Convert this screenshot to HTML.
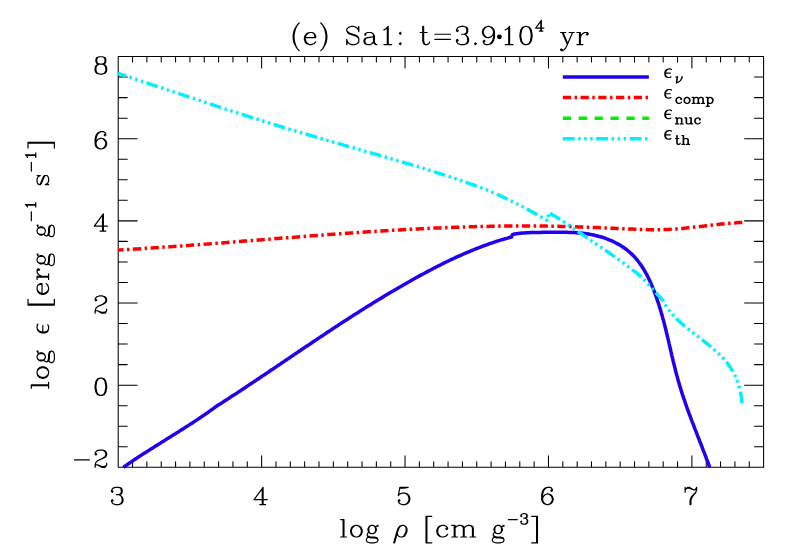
<!DOCTYPE html>
<html><head><meta charset="utf-8"><title>plot</title><style>html,body{margin:0;padding:0;background:#fff;font-family:"Liberation Sans",sans-serif}svg{display:block}</style></head><body><svg width="786" height="550" viewBox="0 0 786 550"><rect width="786" height="550" fill="#fff"/><path d="M118.2 56.55H763.6V467.3H118.2ZM132.54 467.3v-5.5M132.54 56.55v5.5M146.88 467.3v-5.5M146.88 56.55v5.5M161.23 467.3v-5.5M161.23 56.55v5.5M175.57 467.3v-5.5M175.57 56.55v5.5M189.91 467.3v-5.5M189.91 56.55v5.5M204.25 467.3v-5.5M204.25 56.55v5.5M218.60 467.3v-5.5M218.60 56.55v5.5M232.94 467.3v-5.5M232.94 56.55v5.5M247.28 467.3v-5.5M247.28 56.55v5.5M261.62 467.3v-11.45M261.62 56.55v11.45M275.96 467.3v-5.5M275.96 56.55v5.5M290.31 467.3v-5.5M290.31 56.55v5.5M304.65 467.3v-5.5M304.65 56.55v5.5M318.99 467.3v-5.5M318.99 56.55v5.5M333.33 467.3v-5.5M333.33 56.55v5.5M347.68 467.3v-5.5M347.68 56.55v5.5M362.02 467.3v-5.5M362.02 56.55v5.5M376.36 467.3v-5.5M376.36 56.55v5.5M390.70 467.3v-5.5M390.70 56.55v5.5M405.04 467.3v-11.45M405.04 56.55v11.45M419.39 467.3v-5.5M419.39 56.55v5.5M433.73 467.3v-5.5M433.73 56.55v5.5M448.07 467.3v-5.5M448.07 56.55v5.5M462.41 467.3v-5.5M462.41 56.55v5.5M476.76 467.3v-5.5M476.76 56.55v5.5M491.10 467.3v-5.5M491.10 56.55v5.5M505.44 467.3v-5.5M505.44 56.55v5.5M519.78 467.3v-5.5M519.78 56.55v5.5M534.12 467.3v-5.5M534.12 56.55v5.5M548.47 467.3v-11.45M548.47 56.55v11.45M562.81 467.3v-5.5M562.81 56.55v5.5M577.15 467.3v-5.5M577.15 56.55v5.5M591.49 467.3v-5.5M591.49 56.55v5.5M605.84 467.3v-5.5M605.84 56.55v5.5M620.18 467.3v-5.5M620.18 56.55v5.5M634.52 467.3v-5.5M634.52 56.55v5.5M648.86 467.3v-5.5M648.86 56.55v5.5M663.20 467.3v-5.5M663.20 56.55v5.5M677.55 467.3v-5.5M677.55 56.55v5.5M691.89 467.3v-11.45M691.89 56.55v11.45M706.23 467.3v-5.5M706.23 56.55v5.5M720.57 467.3v-5.5M720.57 56.55v5.5M734.92 467.3v-5.5M734.92 56.55v5.5M749.26 467.3v-5.5M749.26 56.55v5.5M118.2 446.76h9.05M763.6 446.76h-9.05M118.2 426.23h9.05M763.6 426.23h-9.05M118.2 405.69h9.05M763.6 405.69h-9.05M118.2 385.15h19.0M763.6 385.15h-19.0M118.2 364.61h9.05M763.6 364.61h-9.05M118.2 344.07h9.05M763.6 344.07h-9.05M118.2 323.54h9.05M763.6 323.54h-9.05M118.2 303.00h19.0M763.6 303.00h-19.0M118.2 282.46h9.05M763.6 282.46h-9.05M118.2 261.93h9.05M763.6 261.93h-9.05M118.2 241.39h9.05M763.6 241.39h-9.05M118.2 220.85h19.0M763.6 220.85h-19.0M118.2 200.31h9.05M763.6 200.31h-9.05M118.2 179.77h9.05M763.6 179.77h-9.05M118.2 159.24h9.05M763.6 159.24h-9.05M118.2 138.70h19.0M763.6 138.70h-19.0M118.2 118.16h9.05M763.6 118.16h-9.05M118.2 97.62h9.05M763.6 97.62h-9.05M118.2 77.09h9.05M763.6 77.09h-9.05" fill="none" stroke="#000" stroke-width="1.05" stroke-linecap="round" stroke-linejoin="round"/><path d="M123.4 467.3L125.0 466.1L126.7 465.0L128.3 463.8L130.0 462.7L131.7 461.6L133.3 460.4L135.0 459.3L136.7 458.2L138.3 457.1L140.0 456.0L141.7 454.9L143.4 453.8L145.1 452.7L146.8 451.7L148.5 450.6L150.2 449.5L151.9 448.4L153.6 447.4L155.3 446.3L157.0 445.2L158.7 444.2L160.4 443.1L162.1 442.0L163.8 441.0L165.5 439.9L167.2 438.8L168.9 437.8L170.6 436.7L172.3 435.6L174.0 434.6L175.7 433.5L177.4 432.4L179.1 431.4L180.8 430.3L182.5 429.2L184.2 428.1L185.9 427.0L187.6 426.0L189.3 424.9L191.0 423.8L192.7 422.7L194.3 421.6L196.0 420.5L197.7 419.4L199.4 418.2L201.0 417.1L202.7 416.0L204.4 414.9L206.0 413.7L207.7 412.6L209.3 411.4L210.9 410.3L212.6 409.1L214.2 407.9L215.8 406.7L217.5 405.5L219.2 404.5L220.9 403.5L222.6 402.4L224.2 401.3L225.9 400.2L227.6 399.1L229.3 398.0L230.9 396.9L232.6 395.8L234.3 394.8L236.0 393.7L237.6 392.6L239.3 391.5L241.0 390.4L242.6 389.3L244.3 388.2L246.0 387.0L247.6 385.9L249.3 384.8L251.0 383.7L252.6 382.6L254.3 381.5L256.0 380.4L257.6 379.3L259.3 378.2L260.9 377.0L262.6 375.9L264.3 374.8L265.9 373.7L267.6 372.6L269.2 371.5L270.9 370.3L272.6 369.2L274.2 368.1L275.9 367.0L277.5 365.9L279.2 364.7L280.9 363.6L282.5 362.5L284.2 361.4L285.8 360.3L287.5 359.1L289.2 358.0L290.8 356.9L292.5 355.8L294.1 354.6L295.8 353.5L297.5 352.4L299.1 351.3L300.8 350.2L302.4 349.0L304.1 347.9L305.8 346.8L307.4 345.7L309.1 344.6L310.8 343.5L312.4 342.3L314.1 341.2L315.8 340.1L317.4 339.0L319.1 337.9L320.8 336.8L322.4 335.7L324.1 334.6L325.8 333.4L327.4 332.3L329.1 331.2L330.8 330.1L332.4 329.0L334.1 327.9L335.8 326.8L337.5 325.7L339.1 324.6L340.8 323.5L342.5 322.4L344.2 321.3L345.9 320.3L347.5 319.2L349.2 318.1L350.9 317.0L352.6 315.9L354.3 314.8L356.0 313.8L357.7 312.7L359.3 311.6L361.0 310.5L362.7 309.5L364.4 308.4L366.1 307.3L367.8 306.3L369.5 305.2L371.2 304.2L372.9 303.1L374.6 302.1L376.3 301.0L378.0 300.0L379.7 298.9L381.4 297.9L383.2 296.9L384.9 295.8L386.6 294.8L388.3 293.8L390.0 292.7L391.7 291.7L393.5 290.7L395.2 289.7L396.9 288.7L398.6 287.7L400.4 286.7L402.1 285.7L403.8 284.7L405.6 283.7L407.3 282.7L409.1 281.7L410.8 280.7L412.5 279.7L414.3 278.8L416.0 277.8L417.8 276.8L419.5 275.9L421.3 274.9L423.1 274.0L424.8 273.0L426.6 272.1L428.4 271.1L430.1 270.2L431.9 269.3L433.7 268.3L435.5 267.4L437.2 266.5L439.0 265.6L440.8 264.7L442.6 263.8L444.4 262.9L446.2 262.0L448.0 261.2L449.8 260.3L451.6 259.4L453.4 258.6L455.2 257.7L457.0 256.9L458.8 256.1L460.7 255.3L462.5 254.5L464.3 253.7L466.2 252.9L468.0 252.1L469.8 251.3L471.7 250.5L473.5 249.8L475.4 249.0L477.3 248.3L479.1 247.6L481.0 246.9L482.9 246.2L484.7 245.5L486.6 244.8L488.5 244.1L490.4 243.4L492.3 242.8L494.2 242.2L496.1 241.5L498.0 240.9L499.9 240.3L501.8 239.7L503.7 239.2L505.7 238.6L507.6 238.1L509.5 237.5L511.5 237.0L512.6 234.4L514.6 234.1L516.6 233.8L518.5 233.5L520.5 233.3L522.5 233.1L524.5 233.0L526.5 232.8L528.5 232.7L530.5 232.6L532.5 232.5L534.5 232.5L536.5 232.4L538.5 232.4L540.5 232.4L542.6 232.3L544.6 232.3L546.6 232.3L548.6 232.3L550.6 232.3L552.6 232.3L554.6 232.3L556.6 232.3L558.6 232.3L560.6 232.3L562.6 232.3L564.7 232.3L566.7 232.3L568.7 232.4L570.7 232.4L572.7 232.5L574.7 232.6L576.7 232.7L578.6 232.9L580.6 233.1L582.6 233.3L584.6 233.5L586.6 233.8L588.6 234.1L590.5 234.4L592.5 234.8L594.5 235.2L596.4 235.7L598.4 236.2L600.3 236.7L602.3 237.3L604.2 237.9L606.1 238.6L608.0 239.3L609.9 240.1L611.8 240.9L613.6 241.8L615.4 242.7L617.2 243.6L619.0 244.6L620.7 245.6L622.4 246.7L624.0 247.8L625.7 249.0L627.3 250.2L628.8 251.5L630.3 252.8L631.7 254.1L633.2 255.5L634.5 256.9L635.8 258.4L637.1 259.9L638.3 261.5L639.5 263.0L640.7 264.7L641.8 266.3L642.9 268.0L643.9 269.7L644.9 271.4L645.9 273.2L646.9 274.9L647.8 276.7L648.7 278.5L649.6 280.4L650.4 282.2L651.2 284.1L652.0 285.9L652.8 287.8L653.5 289.7L654.3 291.5L655.0 293.4L655.7 295.3L656.3 297.2L657.0 299.1L657.6 301.0L658.3 302.9L658.9 304.8L659.5 306.7L660.1 308.7L660.7 310.6L661.2 312.5L661.8 314.4L662.3 316.4L662.8 318.3L663.4 320.2L663.9 322.2L664.4 324.1L664.9 326.1L665.4 328.0L665.9 329.9L666.3 331.9L666.8 333.8L667.3 335.8L667.7 337.7L668.2 339.7L668.7 341.6L669.1 343.6L669.6 345.6L670.0 347.5L670.5 349.5L670.9 351.4L671.4 353.4L671.8 355.3L672.3 357.3L672.8 359.2L673.2 361.2L673.7 363.1L674.2 365.1L674.7 367.0L675.1 369.0L675.6 370.9L676.1 372.8L676.6 374.8L677.2 376.7L677.7 378.6L678.2 380.6L678.8 382.5L679.3 384.4L679.9 386.3L680.5 388.3L681.1 390.2L681.7 392.1L682.3 394.0L682.9 395.9L683.6 397.8L684.2 399.7L684.9 401.6L685.5 403.5L686.2 405.4L686.8 407.3L687.5 409.2L688.2 411.1L688.9 413.0L689.6 414.8L690.3 416.7L691.0 418.6L691.7 420.5L692.4 422.4L693.2 424.2L693.9 426.1L694.6 428.0L695.3 429.9L696.1 431.7L696.8 433.6L697.5 435.5L698.2 437.3L699.0 439.2L699.7 441.1L700.4 443.0L701.2 444.8L701.9 446.7L702.6 448.6L703.3 450.4L704.1 452.3L704.8 454.2L705.5 456.0L706.2 457.9L706.9 459.8L707.6 461.7L708.3 463.5L709.0 465.4L709.7 467.3" fill="none" stroke="#2000f0" stroke-width="3.5" stroke-linejoin="round"/><path d="M118.2 250.1L120.2 249.9L122.2 249.8L124.2 249.7L126.2 249.6L128.2 249.5L130.2 249.3L132.2 249.2L134.2 249.1L136.2 249.0L138.2 248.9L140.2 248.7L142.2 248.6L144.2 248.5L146.2 248.3L148.2 248.2L150.2 248.1L152.2 248.0L154.2 247.8L156.2 247.7L158.2 247.6L160.2 247.4L162.2 247.3L164.2 247.1L166.2 247.0L168.2 246.9L170.2 246.7L172.2 246.6L174.2 246.4L176.2 246.3L178.2 246.2L180.2 246.0L182.2 245.9L184.2 245.7L186.2 245.6L188.2 245.4L190.2 245.3L192.2 245.1L194.1 245.0L196.1 244.8L198.1 244.7L200.1 244.5L202.1 244.4L204.1 244.2L206.1 244.1L208.1 243.9L210.1 243.8L212.1 243.6L214.1 243.5L216.1 243.3L218.1 243.2L220.1 243.0L222.1 242.9L224.1 242.7L226.1 242.6L228.1 242.4L230.1 242.2L232.1 242.1L234.1 241.9L236.1 241.8L238.1 241.6L240.1 241.5L242.1 241.3L244.1 241.1L246.1 241.0L248.1 240.8L250.1 240.7L252.1 240.5L254.1 240.4L256.1 240.2L258.1 240.0L260.1 239.9L262.1 239.7L264.1 239.6L266.1 239.4L268.1 239.2L270.1 239.1L272.1 238.9L274.1 238.8L276.1 238.6L278.1 238.5L280.1 238.3L282.1 238.1L284.1 238.0L286.1 237.8L288.1 237.7L290.1 237.5L292.1 237.4L294.1 237.2L296.1 237.1L298.1 236.9L300.1 236.7L302.1 236.6L304.1 236.4L306.1 236.3L308.1 236.1L310.1 236.0L312.1 235.8L314.1 235.7L316.1 235.5L318.1 235.4L320.1 235.2L322.1 235.1L324.1 234.9L326.1 234.8L328.1 234.6L330.1 234.5L332.1 234.3L334.1 234.2L336.1 234.0L338.1 233.9L340.1 233.8L342.1 233.6L344.1 233.5L346.1 233.3L348.1 233.2L350.1 233.0L352.1 232.9L354.1 232.8L356.1 232.6L358.1 232.5L360.1 232.4L362.1 232.2L364.1 232.1L366.1 232.0L368.1 231.8L370.1 231.7L372.1 231.6L374.1 231.4L376.1 231.3L378.1 231.2L380.1 231.1L382.1 230.9L384.1 230.8L386.1 230.7L388.1 230.6L390.1 230.4L392.1 230.3L394.1 230.2L396.1 230.1L398.1 230.0L400.1 229.9L402.1 229.7L404.1 229.6L406.1 229.5L408.1 229.4L410.1 229.3L412.1 229.2L414.1 229.1L416.1 229.0L418.1 228.9L420.1 228.8L422.1 228.7L424.1 228.6L426.1 228.5L428.1 228.4L430.1 228.3L432.1 228.2L434.1 228.1L436.1 228.0L438.1 228.0L440.1 227.9L442.1 227.8L444.1 227.7L446.1 227.6L448.1 227.5L450.1 227.5L452.1 227.4L454.2 227.3L456.2 227.2L458.2 227.2L460.2 227.1L462.2 227.0L464.2 227.0L466.2 226.9L468.2 226.9L470.2 226.8L472.2 226.7L474.2 226.7L476.2 226.6L478.2 226.6L480.2 226.5L482.2 226.5L484.2 226.4L486.2 226.4L488.2 226.4L490.2 226.3L492.2 226.3L494.2 226.2L496.2 226.2L498.2 226.2L500.2 226.1L502.2 226.1L504.2 226.1L506.2 226.1L508.2 226.1L510.2 226.0L512.2 226.0L514.2 226.0L516.2 226.0L518.2 226.0L520.2 226.0L522.2 226.0L524.3 226.0L526.3 226.0L528.3 226.0L530.3 226.0L532.3 226.0L534.3 226.0L536.3 226.0L538.3 226.0L540.3 226.1L542.3 226.1L544.3 226.1L546.3 226.1L548.3 226.2L550.3 226.2L552.3 226.2L554.3 226.3L556.3 226.3L558.3 226.3L560.3 226.4L562.3 226.4L564.3 226.5L566.3 226.5L568.3 226.6L570.3 226.6L572.3 226.7L574.4 226.8L576.4 226.8L578.4 226.9L580.4 227.0L582.4 227.0L584.4 227.1L586.4 227.2L588.4 227.2L590.4 227.3L592.4 227.4L594.4 227.5L596.4 227.6L598.4 227.6L600.4 227.7L602.4 227.8L604.4 227.9L606.4 228.0L608.4 228.1L610.4 228.2L612.4 228.2L614.4 228.3L616.4 228.4L618.4 228.5L620.4 228.6L622.4 228.7L624.4 228.8L626.5 228.9L628.5 229.0L630.5 229.0L632.5 229.1L634.5 229.2L636.5 229.3L638.5 229.4L640.5 229.4L642.5 229.5L644.5 229.6L646.5 229.6L648.5 229.7L650.5 229.7L652.5 229.7L654.5 229.7L656.5 229.7L658.5 229.7L660.5 229.7L662.5 229.6L664.5 229.6L666.5 229.5L668.5 229.4L670.5 229.3L672.5 229.2L674.5 229.1L676.4 228.9L678.4 228.7L680.4 228.6L682.4 228.4L684.4 228.2L686.4 228.0L688.4 227.8L690.4 227.6L692.4 227.4L694.4 227.1L696.4 226.9L698.4 226.7L700.4 226.4L702.4 226.2L704.4 226.0L706.4 225.7L708.4 225.5L710.4 225.3L712.4 225.0L714.4 224.8L716.4 224.6L718.4 224.4L720.4 224.1L722.4 223.9L724.3 223.7L726.3 223.6L728.3 223.4L730.3 223.2L732.3 223.0L734.3 222.9L736.3 222.8L738.3 222.6L740.3 222.5L742.3 222.4" fill="none" stroke="#ff0000" stroke-width="3.5" stroke-dasharray="8.3 3.46 2.5 3.46" stroke-dashoffset="2.99" stroke-linejoin="round"/><path d="M118.0 73.3L119.9 74.0L121.8 74.6L123.8 75.2L125.7 75.9L127.6 76.5L129.5 77.1L131.4 77.8L133.3 78.4L135.2 79.0L137.1 79.7L139.0 80.3L140.9 80.9L142.8 81.6L144.7 82.2L146.6 82.8L148.5 83.5L150.4 84.1L152.3 84.8L154.2 85.4L156.1 86.0L158.0 86.7L159.9 87.3L161.8 87.9L163.7 88.6L165.6 89.2L167.5 89.9L169.4 90.5L171.3 91.1L173.2 91.8L175.2 92.4L177.1 93.0L179.0 93.7L180.9 94.3L182.8 94.9L184.7 95.6L186.6 96.2L188.5 96.8L190.4 97.5L192.3 98.1L194.2 98.7L196.1 99.4L198.0 100.0L199.9 100.6L201.8 101.3L203.7 101.9L205.6 102.5L207.5 103.1L209.4 103.8L211.4 104.4L213.3 105.0L215.2 105.6L217.1 106.3L219.0 106.9L220.9 107.5L222.8 108.1L224.7 108.8L226.6 109.4L228.5 110.0L230.4 110.6L232.3 111.2L234.3 111.9L236.2 112.5L238.1 113.1L240.0 113.7L241.9 114.3L243.8 114.9L245.7 115.6L247.6 116.2L249.5 116.8L251.5 117.4L253.4 118.0L255.3 118.6L257.2 119.2L259.1 119.8L261.0 120.4L262.9 121.0L264.9 121.6L266.8 122.2L268.7 122.8L270.6 123.4L272.5 124.0L274.4 124.6L276.4 125.2L278.3 125.8L280.2 126.4L282.1 127.0L284.0 127.5L286.0 128.1L287.9 128.7L289.8 129.3L291.7 129.9L293.6 130.4L295.6 131.0L297.5 131.6L299.4 132.2L301.3 132.7L303.3 133.3L305.2 133.9L307.1 134.5L309.0 135.0L311.0 135.6L312.9 136.2L314.8 136.7L316.7 137.3L318.7 137.8L320.6 138.4L322.5 139.0L324.4 139.5L326.4 140.1L328.3 140.6L330.2 141.2L332.2 141.7L334.1 142.3L336.0 142.9L337.9 143.4L339.9 144.0L341.8 144.5L343.7 145.1L345.7 145.6L347.6 146.2L349.5 146.7L351.5 147.3L353.4 147.8L355.3 148.4L357.2 148.9L359.2 149.5L361.1 150.0L363.0 150.6L365.0 151.2L366.9 151.7L368.8 152.3L370.8 152.8L372.7 153.4L374.6 153.9L376.5 154.5L378.5 155.0L380.4 155.6L382.3 156.2L384.2 156.7L386.2 157.3L388.1 157.8L390.0 158.4L392.0 159.0L393.9 159.5L395.8 160.1L397.7 160.7L399.7 161.2L401.6 161.8L403.5 162.4L405.4 163.0L407.3 163.5L409.3 164.1L411.2 164.7L413.1 165.3L415.0 165.9L417.0 166.4L418.9 167.0L420.8 167.6L422.7 168.2L424.6 168.8L426.5 169.4L428.5 170.0L430.4 170.6L432.3 171.2L434.2 171.8L436.1 172.4L438.0 173.0L439.9 173.6L441.9 174.2L443.8 174.8L445.7 175.5L447.6 176.1L449.5 176.7L451.4 177.3L453.3 178.0L455.2 178.6L457.1 179.2L459.0 179.9L460.9 180.5L462.8 181.2L464.7 181.8L466.6 182.5L468.5 183.2L470.4 183.8L472.3 184.5L474.2 185.2L476.0 185.9L477.9 186.6L479.8 187.3L481.7 188.0L483.5 188.8L485.4 189.5L487.3 190.2L489.1 191.0L491.0 191.8L492.8 192.5L494.7 193.3L496.5 194.1L498.3 194.9L500.2 195.7L502.0 196.6L503.8 197.4L505.6 198.3L507.4 199.1L509.2 200.0L511.1 200.9L512.9 201.8L514.6 202.6L516.4 203.6L518.2 204.5L520.0 205.4L521.8 206.3L523.6 207.2L525.3 208.2L527.1 209.1L528.9 210.1L530.6 211.0L532.4 212.0L534.1 212.9L535.9 213.9L537.6 214.9L539.4 215.9L541.1 216.9L542.8 217.9L544.6 218.9L546.3 219.9L548.0 220.9" fill="none" stroke="#00f0ff" stroke-width="3.5" stroke-dasharray="11.9 3.51 2.5 3.51 2.5 3.51 2.5 3.51" stroke-dashoffset="3.39" stroke-linejoin="round"/><path d="M548.0 220.9L548.6 212.5L550.3 213.5L552.0 214.5L553.7 215.5L555.5 216.5L557.2 217.6L558.9 218.7L560.5 219.7L562.2 220.8L563.9 221.9L565.6 223.0L567.2 224.1L568.9 225.2L570.6 226.4L572.2 227.5L573.9 228.6L575.5 229.8L577.1 230.9L578.8 232.0L580.4 233.2L582.1 234.3L583.7 235.5L585.4 236.6L587.0 237.8L588.6 238.9L590.3 240.0L591.9 241.2L593.6 242.3L595.3 243.4L596.9 244.5L598.6 245.7L600.2 246.8L601.9 247.9L603.5 249.0L605.2 250.2L606.8 251.3L608.5 252.4L610.1 253.6L611.8 254.7L613.4 255.9L615.0 257.0L616.7 258.2L618.3 259.3L619.9 260.5L621.5 261.7L623.2 262.8L624.8 264.0L626.4 265.2L628.0 266.4L629.6 267.7L631.1 268.9L632.7 270.1L634.4 271.2L636.0 272.4L637.6 273.7L639.1 275.1L640.6 276.4L642.0 277.8L643.5 279.2L644.9 280.6L646.3 282.1L647.6 283.6L649.0 285.1L650.4 286.6L651.7 288.1L653.1 289.6L654.4 291.0L655.8 292.5L657.1 294.0L658.5 295.5L659.9 296.9L661.2 298.4L662.4 300.0L663.5 301.6L664.5 303.3L665.5 305.0L666.6 306.7L667.7 308.4L668.9 310.0L670.2 311.6L671.5 313.2L672.8 314.7L674.2 316.2L675.6 317.6L677.0 319.1L678.4 320.5L679.8 321.8L681.3 323.2L682.8 324.5L684.3 325.8L685.9 327.1L687.4 328.4L689.0 329.6L690.5 330.9L692.1 332.1L693.7 333.4L695.3 334.6L696.9 335.8L698.5 337.0L700.1 338.3L701.7 339.5L703.3 340.7L704.9 342.0L706.5 343.2L708.1 344.5L709.6 345.8L711.2 347.0L712.7 348.3L714.3 349.7L715.8 351.0L717.3 352.4L718.7 353.7L720.2 355.2L721.6 356.6L723.0 358.0L724.3 359.5L725.6 361.0L726.9 362.6L728.1 364.2L729.2 365.8L730.4 367.4L731.5 369.1L732.5 370.8L733.5 372.6L734.4 374.4L735.3 376.2L736.1 378.1L736.9 380.0L737.6 381.9L738.2 383.8L738.8 385.7L739.4 387.7L739.9 389.6L740.4 391.6L740.8 393.6L741.1 395.6L741.4 397.5L741.7 399.5L741.9 401.5L742.0 403.5" fill="none" stroke="#00f0ff" stroke-width="3.5" stroke-dasharray="11.8 3.4675 2.5 3.4675 2.5 3.4675 2.5 3.4675" stroke-dashoffset="23.13" stroke-linejoin="round"/><path d="M562.81 77.09H648.86" stroke="#2000f0" stroke-width="3.5" fill="none"/><path d="M562.81 97.62H648.86" stroke="#ff0000" stroke-width="3.5" fill="none" stroke-dasharray="8.2 3.55 2.45 3.55"/><path d="M562.81 118.16H648.86" stroke="#00f000" stroke-width="3.5" fill="none" stroke-dasharray="8.2 7.7"/><path d="M562.81 138.70H648.86" stroke="#00f0ff" stroke-width="3.5" fill="none" stroke-dasharray="11.9 3.5 2.5 3.5 2.5 3.5 2.5 3.5"/><g transform="translate(289.70 44.60) translate(0.00 0)"><path d="M9.50 -21.60L7.78 -19.87L6.05 -17.28L4.32 -13.82L3.46 -9.50L3.46 -6.05L4.32 -1.73L6.05 1.73L7.78 4.32L9.50 6.05M7.78 -19.87L6.05 -16.42L5.18 -13.82L4.32 -9.50L4.32 -6.05L5.18 -1.73L6.05 0.86L7.78 4.32M15.55 -6.91L25.92 -6.91L25.92 -8.64L25.06 -10.37L24.19 -11.23L22.46 -12.10L19.87 -12.10L17.28 -11.23L15.55 -9.50L14.69 -6.91L14.69 -5.18L15.55 -2.59L17.28 -0.86L19.87 0.00L21.60 0.00L24.19 -0.86L25.92 -2.59M25.06 -6.91L25.06 -9.50L24.19 -11.23M19.87 -12.10L18.14 -11.23L16.42 -9.50L15.55 -6.91L15.55 -5.18L16.42 -2.59L18.14 -0.86L19.87 0.00M31.10 -21.60L32.83 -19.87L34.56 -17.28L36.29 -13.82L37.15 -9.50L37.15 -6.05L36.29 -1.73L34.56 1.73L32.83 4.32L31.10 6.05M32.83 -19.87L34.56 -16.42L35.42 -13.82L36.29 -9.50L36.29 -6.05L35.42 -1.73L34.56 0.86L32.83 4.32M68.26 -15.55L69.12 -18.14L69.12 -12.96L68.26 -15.55L66.53 -17.28L63.94 -18.14L61.34 -18.14L58.75 -17.28L57.02 -15.55L57.02 -13.82L57.89 -12.10L58.75 -11.23L60.48 -10.37L65.66 -8.64L67.39 -7.78L69.12 -6.05M57.02 -13.82L58.75 -12.10L60.48 -11.23L65.66 -9.50L67.39 -8.64L68.26 -7.78L69.12 -6.05L69.12 -2.59L67.39 -0.86L64.80 0.00L62.21 0.00L59.62 -0.86L57.89 -2.59L57.02 -5.18L57.02 0.00L57.89 -2.59M76.03 -10.37L76.03 -9.50L75.17 -9.50L75.17 -10.37L76.03 -11.23L77.76 -12.10L81.22 -12.10L82.94 -11.23L83.81 -10.37L84.67 -8.64L84.67 -2.59L85.54 -0.86L86.40 0.00M83.81 -10.37L83.81 -2.59L84.67 -0.86L86.40 0.00L87.26 0.00M83.81 -8.64L82.94 -7.78L77.76 -6.91L75.17 -6.05L74.30 -4.32L74.30 -2.59L75.17 -0.86L77.76 0.00L80.35 0.00L82.08 -0.86L83.81 -2.59M77.76 -6.91L76.03 -6.05L75.17 -4.32L75.17 -2.59L76.03 -0.86L77.76 0.00M94.18 -14.69L95.90 -15.55L98.50 -18.14L98.50 0.00M97.63 -17.28L97.63 0.00M94.18 0.00L101.95 0.00M110.59 -12.10L109.73 -11.23L110.59 -10.37L111.46 -11.23L110.59 -12.10M110.59 -1.73L109.73 -0.86L110.59 0.00L111.46 -0.86L110.59 -1.73M133.06 -18.14L133.06 -3.46L133.92 -0.86L135.65 0.00L137.38 0.00L139.10 -0.86L139.97 -2.59M133.92 -18.14L133.92 -3.46L134.78 -0.86L135.65 0.00M130.46 -12.10L137.38 -12.10M145.15 -10.37L160.70 -10.37M145.15 -5.18L160.70 -5.18M167.62 -14.69L168.48 -13.82L167.62 -12.96L166.75 -13.82L166.75 -14.69L167.62 -16.42L168.48 -17.28L171.07 -18.14L174.53 -18.14L177.12 -17.28L177.98 -15.55L177.98 -12.96L177.12 -11.23L174.53 -10.37L171.94 -10.37M174.53 -18.14L176.26 -17.28L177.12 -15.55L177.12 -12.96L176.26 -11.23L174.53 -10.37M174.53 -10.37L176.26 -9.50L177.98 -7.78L178.85 -6.05L178.85 -3.46L177.98 -1.73L177.12 -0.86L174.53 0.00L171.07 0.00L168.48 -0.86L167.62 -1.73L166.75 -3.46L166.75 -4.32L167.62 -5.18L168.48 -4.32L167.62 -3.46M177.12 -8.64L177.98 -6.05L177.98 -3.46L177.12 -1.73L176.26 -0.86L174.53 0.00M185.76 -1.73L184.90 -0.86L185.76 0.00L186.62 -0.86L185.76 -1.73M203.90 -12.10L203.04 -9.50L201.31 -7.78L198.72 -6.91L197.86 -6.91L195.26 -7.78L193.54 -9.50L192.67 -12.10L192.67 -12.96L193.54 -15.55L195.26 -17.28L197.86 -18.14L199.58 -18.14L202.18 -17.28L203.90 -15.55L204.77 -12.96L204.77 -7.78L203.90 -4.32L203.04 -2.59L201.31 -0.86L198.72 0.00L196.13 0.00L194.40 -0.86L193.54 -2.59L193.54 -3.46L194.40 -4.32L195.26 -3.46L194.40 -2.59M197.86 -6.91L196.13 -7.78L194.40 -9.50L193.54 -12.10L193.54 -12.96L194.40 -15.55L196.13 -17.28L197.86 -18.14M199.58 -18.14L201.31 -17.28L203.04 -15.55L203.90 -12.96L203.90 -7.78L203.04 -4.32L202.18 -2.59L200.45 -0.86L198.72 0.00M215.57 -14.69L217.30 -15.55L219.89 -18.14L219.89 0.00M219.02 -17.28L219.02 0.00M215.57 0.00L223.34 0.00M235.44 -18.14L232.85 -17.28L231.12 -14.69L230.26 -10.37L230.26 -7.78L231.12 -3.46L232.85 -0.86L235.44 0.00L237.17 0.00L239.76 -0.86L241.49 -3.46L242.35 -7.78L242.35 -10.37L241.49 -14.69L239.76 -17.28L237.17 -18.14L235.44 -18.14M235.44 -18.14L233.71 -17.28L232.85 -16.42L231.98 -14.69L231.12 -10.37L231.12 -7.78L231.98 -3.46L232.85 -1.73L233.71 -0.86L235.44 0.00M237.17 0.00L238.90 -0.86L239.76 -1.73L240.62 -3.46L241.49 -7.78L241.49 -10.37L240.62 -14.69L239.76 -16.42L238.90 -17.28L237.17 -18.14M251.11 -23.25L251.11 -13.48M251.63 -24.27L251.63 -13.48M251.63 -24.27L245.97 -16.56L254.20 -16.56M249.57 -13.48L253.17 -13.48M272.51 -12.10L277.69 0.00M273.37 -12.10L277.69 -1.73M282.87 -12.10L277.69 0.00L275.96 3.46L274.23 5.18L272.51 6.05L271.64 6.05L270.78 5.18L271.64 4.32L272.51 5.18M270.78 -12.10L275.96 -12.10M279.42 -12.10L284.60 -12.10M289.79 -12.10L289.79 0.00M290.65 -12.10L290.65 0.00M290.65 -6.91L291.51 -9.50L293.24 -11.23L294.97 -12.10L297.56 -12.10L298.43 -11.23L298.43 -10.37L297.56 -9.50L296.70 -10.37L297.56 -11.23M287.19 -12.10L290.65 -12.10M287.19 0.00L293.24 0.00" fill="none" stroke="#000" stroke-width="1.2" stroke-linecap="round" stroke-linejoin="round"/><circle cx="209.69" cy="-7.78" r="2.43" fill="#000"/></g><g transform="translate(117.20 504.60) translate(-8.23 0)"><path d="M3.29 -13.99L4.12 -13.17L3.29 -12.34L2.47 -13.17L2.47 -13.99L3.29 -15.64L4.12 -16.46L6.58 -17.28L9.88 -17.28L12.34 -16.46L13.17 -14.81L13.17 -12.34L12.34 -10.70L9.88 -9.88L7.41 -9.88M9.88 -17.28L11.52 -16.46L12.34 -14.81L12.34 -12.34L11.52 -10.70L9.88 -9.88M9.88 -9.88L11.52 -9.05L13.17 -7.41L13.99 -5.76L13.99 -3.29L13.17 -1.65L12.34 -0.82L9.88 0.00L6.58 0.00L4.12 -0.82L3.29 -1.65L2.47 -3.29L2.47 -4.12L3.29 -4.94L4.12 -4.12L3.29 -3.29M12.34 -8.23L13.17 -5.76L13.17 -3.29L12.34 -1.65L11.52 -0.82L9.88 0.00" fill="none" stroke="#000" stroke-width="1.2" stroke-linecap="round" stroke-linejoin="round"/></g><g transform="translate(260.62 504.60) translate(-8.23 0)"><path d="M9.88 -15.64L9.88 0.00M10.70 -17.28L10.70 0.00M10.70 -17.28L1.65 -4.94L14.81 -4.94M7.41 0.00L13.17 0.00" fill="none" stroke="#000" stroke-width="1.2" stroke-linecap="round" stroke-linejoin="round"/></g><g transform="translate(404.04 504.60) translate(-8.23 0)"><path d="M4.12 -17.28L2.47 -9.05M2.47 -9.05L4.12 -10.70L6.58 -11.52L9.05 -11.52L11.52 -10.70L13.17 -9.05L13.99 -6.58L13.99 -4.94L13.17 -2.47L11.52 -0.82L9.05 0.00L6.58 0.00L4.12 -0.82L3.29 -1.65L2.47 -3.29L2.47 -4.12L3.29 -4.94L4.12 -4.12L3.29 -3.29M9.05 -11.52L10.70 -10.70L12.34 -9.05L13.17 -6.58L13.17 -4.94L12.34 -2.47L10.70 -0.82L9.05 0.00M4.12 -17.28L12.34 -17.28M4.12 -16.46L8.23 -16.46L12.34 -17.28" fill="none" stroke="#000" stroke-width="1.2" stroke-linecap="round" stroke-linejoin="round"/></g><g transform="translate(547.47 504.60) translate(-8.23 0)"><path d="M12.34 -14.81L11.52 -13.99L12.34 -13.17L13.17 -13.99L13.17 -14.81L12.34 -16.46L10.70 -17.28L8.23 -17.28L5.76 -16.46L4.12 -14.81L3.29 -13.17L2.47 -9.88L2.47 -4.94L3.29 -2.47L4.94 -0.82L7.41 0.00L9.05 0.00L11.52 -0.82L13.17 -2.47L13.99 -4.94L13.99 -5.76L13.17 -8.23L11.52 -9.88L9.05 -10.70L8.23 -10.70L5.76 -9.88L4.12 -8.23L3.29 -5.76M8.23 -17.28L6.58 -16.46L4.94 -14.81L4.12 -13.17L3.29 -9.88L3.29 -4.94L4.12 -2.47L5.76 -0.82L7.41 0.00M9.05 0.00L10.70 -0.82L12.34 -2.47L13.17 -4.94L13.17 -5.76L12.34 -8.23L10.70 -9.88L9.05 -10.70" fill="none" stroke="#000" stroke-width="1.2" stroke-linecap="round" stroke-linejoin="round"/></g><g transform="translate(690.89 504.60) translate(-8.23 0)"><path d="M2.47 -17.28L2.47 -12.34M2.47 -13.99L3.29 -15.64L4.94 -17.28L6.58 -17.28L10.70 -14.81L12.34 -14.81L13.17 -15.64L13.99 -17.28M3.29 -15.64L4.94 -16.46L6.58 -16.46L10.70 -14.81M13.99 -17.28L13.99 -14.81L13.17 -12.34L9.88 -8.23L9.05 -6.58L8.23 -4.12L8.23 0.00M13.17 -12.34L9.05 -8.23L8.23 -6.58L7.41 -4.12L7.41 0.00" fill="none" stroke="#000" stroke-width="1.2" stroke-linecap="round" stroke-linejoin="round"/></g><g transform="translate(109.10 74.04) translate(-16.46 0)"><path d="M6.58 -17.28L4.12 -16.46L3.29 -14.81L3.29 -12.34L4.12 -10.70L6.58 -9.88L9.88 -9.88L12.34 -10.70L13.17 -12.34L13.17 -14.81L12.34 -16.46L9.88 -17.28L6.58 -17.28M6.58 -17.28L4.94 -16.46L4.12 -14.81L4.12 -12.34L4.94 -10.70L6.58 -9.88M9.88 -9.88L11.52 -10.70L12.34 -12.34L12.34 -14.81L11.52 -16.46L9.88 -17.28M6.58 -9.88L4.12 -9.05L3.29 -8.23L2.47 -6.58L2.47 -3.29L3.29 -1.65L4.12 -0.82L6.58 0.00L9.88 0.00L12.34 -0.82L13.17 -1.65L13.99 -3.29L13.99 -6.58L13.17 -8.23L12.34 -9.05L9.88 -9.88M6.58 -9.88L4.94 -9.05L4.12 -8.23L3.29 -6.58L3.29 -3.29L4.12 -1.65L4.94 -0.82L6.58 0.00M9.88 0.00L11.52 -0.82L12.34 -1.65L13.17 -3.29L13.17 -6.58L12.34 -8.23L11.52 -9.05L9.88 -9.88" fill="none" stroke="#000" stroke-width="1.2" stroke-linecap="round" stroke-linejoin="round"/></g><g transform="translate(109.10 148.94) translate(-16.46 0)"><path d="M12.34 -14.81L11.52 -13.99L12.34 -13.17L13.17 -13.99L13.17 -14.81L12.34 -16.46L10.70 -17.28L8.23 -17.28L5.76 -16.46L4.12 -14.81L3.29 -13.17L2.47 -9.88L2.47 -4.94L3.29 -2.47L4.94 -0.82L7.41 0.00L9.05 0.00L11.52 -0.82L13.17 -2.47L13.99 -4.94L13.99 -5.76L13.17 -8.23L11.52 -9.88L9.05 -10.70L8.23 -10.70L5.76 -9.88L4.12 -8.23L3.29 -5.76M8.23 -17.28L6.58 -16.46L4.94 -14.81L4.12 -13.17L3.29 -9.88L3.29 -4.94L4.12 -2.47L5.76 -0.82L7.41 0.00M9.05 0.00L10.70 -0.82L12.34 -2.47L13.17 -4.94L13.17 -5.76L12.34 -8.23L10.70 -9.88L9.05 -10.70" fill="none" stroke="#000" stroke-width="1.2" stroke-linecap="round" stroke-linejoin="round"/></g><g transform="translate(109.10 231.09) translate(-16.46 0)"><path d="M9.88 -15.64L9.88 0.00M10.70 -17.28L10.70 0.00M10.70 -17.28L1.65 -4.94L14.81 -4.94M7.41 0.00L13.17 0.00" fill="none" stroke="#000" stroke-width="1.2" stroke-linecap="round" stroke-linejoin="round"/></g><g transform="translate(109.10 313.24) translate(-16.46 0)"><path d="M3.29 -13.99L4.12 -13.17L3.29 -12.34L2.47 -13.17L2.47 -13.99L3.29 -15.64L4.12 -16.46L6.58 -17.28L9.88 -17.28L12.34 -16.46L13.17 -15.64L13.99 -13.99L13.99 -12.34L13.17 -10.70L10.70 -9.05L6.58 -7.41L4.94 -6.58L3.29 -4.94L2.47 -2.47L2.47 0.00M9.88 -17.28L11.52 -16.46L12.34 -15.64L13.17 -13.99L13.17 -12.34L12.34 -10.70L9.88 -9.05L6.58 -7.41M2.47 -1.65L3.29 -2.47L4.94 -2.47L9.05 -0.82L11.52 -0.82L13.17 -1.65L13.99 -2.47M4.94 -2.47L9.05 0.00L12.34 0.00L13.17 -0.82L13.99 -2.47L13.99 -4.12" fill="none" stroke="#000" stroke-width="1.2" stroke-linecap="round" stroke-linejoin="round"/></g><g transform="translate(109.10 395.39) translate(-16.46 0)"><path d="M7.41 -17.28L4.94 -16.46L3.29 -13.99L2.47 -9.88L2.47 -7.41L3.29 -3.29L4.94 -0.82L7.41 0.00L9.05 0.00L11.52 -0.82L13.17 -3.29L13.99 -7.41L13.99 -9.88L13.17 -13.99L11.52 -16.46L9.05 -17.28L7.41 -17.28M7.41 -17.28L5.76 -16.46L4.94 -15.64L4.12 -13.99L3.29 -9.88L3.29 -7.41L4.12 -3.29L4.94 -1.65L5.76 -0.82L7.41 0.00M9.05 0.00L10.70 -0.82L11.52 -1.65L12.34 -3.29L13.17 -7.41L13.17 -9.88L12.34 -13.99L11.52 -15.64L10.70 -16.46L9.05 -17.28" fill="none" stroke="#000" stroke-width="1.2" stroke-linecap="round" stroke-linejoin="round"/></g><g transform="translate(109.10 467.34) translate(-37.86 0)"><path d="M3.29 -7.41L18.11 -7.41M24.69 -13.99L25.51 -13.17L24.69 -12.34L23.87 -13.17L23.87 -13.99L24.69 -15.64L25.51 -16.46L27.98 -17.28L31.27 -17.28L33.74 -16.46L34.57 -15.64L35.39 -13.99L35.39 -12.34L34.57 -10.70L32.10 -9.05L27.98 -7.41L26.34 -6.58L24.69 -4.94L23.87 -2.47L23.87 0.00M31.27 -17.28L32.92 -16.46L33.74 -15.64L34.57 -13.99L34.57 -12.34L33.74 -10.70L31.27 -9.05L27.98 -7.41M23.87 -1.65L24.69 -2.47L26.34 -2.47L30.45 -0.82L32.92 -0.82L34.57 -1.65L35.39 -2.47M26.34 -2.47L30.45 0.00L33.74 0.00L34.57 -0.82L35.39 -2.47L35.39 -4.12" fill="none" stroke="#000" stroke-width="1.2" stroke-linecap="round" stroke-linejoin="round"/></g><g transform="translate(339.00 537.00) translate(0.00 0)"><path d="M4.14 -17.41L4.14 0.00M4.97 -17.41L4.97 0.00M1.66 -17.41L4.97 -17.41M1.66 0.00L7.46 0.00M16.58 -11.61L14.09 -10.78L12.43 -9.12L11.61 -6.63L11.61 -4.97L12.43 -2.49L14.09 -0.83L16.58 0.00L18.24 0.00L20.73 -0.83L22.38 -2.49L23.21 -4.97L23.21 -6.63L22.38 -9.12L20.73 -10.78L18.24 -11.61L16.58 -11.61M16.58 -11.61L14.92 -10.78L13.26 -9.12L12.43 -6.63L12.43 -4.97L13.26 -2.49L14.92 -0.83L16.58 0.00M18.24 0.00L19.90 -0.83L21.55 -2.49L22.38 -4.97L22.38 -6.63L21.55 -9.12L19.90 -10.78L18.24 -11.61M32.33 -11.61L30.67 -10.78L29.84 -9.95L29.01 -8.29L29.01 -6.63L29.84 -4.97L30.67 -4.14L32.33 -3.32L33.99 -3.32L35.65 -4.14L36.48 -4.97L37.30 -6.63L37.30 -8.29L36.48 -9.95L35.65 -10.78L33.99 -11.61L32.33 -11.61M30.67 -10.78L29.84 -9.12L29.84 -5.80L30.67 -4.14M35.65 -4.14L36.48 -5.80L36.48 -9.12L35.65 -10.78M36.48 -9.95L37.30 -10.78L38.96 -11.61L38.96 -10.78L37.30 -10.78M29.84 -4.97L29.01 -4.14L28.19 -2.49L28.19 -1.66L29.01 0.00L31.50 0.83L35.65 0.83L38.13 1.66L38.96 2.49M28.19 -1.66L29.01 -0.83L31.50 0.00L35.65 0.00L38.13 0.83L38.96 2.49L38.96 3.32L38.13 4.97L35.65 5.80L30.67 5.80L28.19 4.97L27.36 3.32L27.36 2.49L28.19 0.83L30.67 0.00M58.03 -4.14L58.86 -1.66L59.69 -0.83L61.35 0.00L63.00 0.00L65.49 -0.83L67.15 -3.32L67.98 -5.80L67.98 -8.29L67.15 -9.95L66.32 -10.78L64.66 -11.61L63.00 -11.61L60.52 -10.78L58.86 -8.29L58.03 -5.80L54.71 5.80M63.00 0.00L64.66 -0.83L66.32 -3.32L67.15 -5.80L67.15 -9.12L66.32 -10.78M63.00 -11.61L61.35 -10.78L59.69 -8.29L58.86 -5.80L55.54 5.80M87.05 -20.72L87.05 5.80M87.87 -20.72L87.87 5.80M87.05 -20.72L92.85 -20.72M87.05 5.80L92.85 5.80M107.77 -9.12L106.94 -8.29L107.77 -7.46L108.60 -8.29L108.60 -9.12L106.94 -10.78L105.28 -11.61L102.80 -11.61L100.31 -10.78L98.65 -9.12L97.82 -6.63L97.82 -4.97L98.65 -2.49L100.31 -0.83L102.80 0.00L104.45 0.00L106.94 -0.83L108.60 -2.49M102.80 -11.61L101.14 -10.78L99.48 -9.12L98.65 -6.63L98.65 -4.97L99.48 -2.49L101.14 -0.83L102.80 0.00M115.23 -11.61L115.23 0.00M116.06 -11.61L116.06 0.00M116.06 -9.12L117.72 -10.78L120.20 -11.61L121.86 -11.61L124.35 -10.78L125.18 -9.12L125.18 0.00M121.86 -11.61L123.52 -10.78L124.35 -9.12L124.35 0.00M125.18 -9.12L126.84 -10.78L129.32 -11.61L130.98 -11.61L133.47 -10.78L134.30 -9.12L134.30 0.00M130.98 -11.61L132.64 -10.78L133.47 -9.12L133.47 0.00M112.74 -11.61L116.06 -11.61M112.74 0.00L118.55 0.00M121.86 0.00L127.67 0.00M130.98 0.00L136.78 0.00M158.34 -11.61L156.68 -10.78L155.85 -9.95L155.02 -8.29L155.02 -6.63L155.85 -4.97L156.68 -4.14L158.34 -3.32L160.00 -3.32L161.66 -4.14L162.48 -4.97L163.31 -6.63L163.31 -8.29L162.48 -9.95L161.66 -10.78L160.00 -11.61L158.34 -11.61M156.68 -10.78L155.85 -9.12L155.85 -5.80L156.68 -4.14M161.66 -4.14L162.48 -5.80L162.48 -9.12L161.66 -10.78M162.48 -9.95L163.31 -10.78L164.97 -11.61L164.97 -10.78L163.31 -10.78M155.85 -4.97L155.02 -4.14L154.19 -2.49L154.19 -1.66L155.02 0.00L157.51 0.83L161.66 0.83L164.14 1.66L164.97 2.49M154.19 -1.66L155.02 -0.83L157.51 0.00L161.66 0.00L164.14 0.83L164.97 2.49L164.97 3.32L164.14 4.97L161.66 5.80L156.68 5.80L154.19 4.97L153.36 3.32L153.36 2.49L154.19 0.83L156.68 0.00M169.43 -17.37L178.31 -17.37M182.26 -21.32L182.75 -20.82L182.26 -20.33L181.76 -20.82L181.76 -21.32L182.26 -22.30L182.75 -22.80L184.23 -23.29L186.20 -23.29L187.68 -22.80L188.17 -21.81L188.17 -20.33L187.68 -19.34L186.20 -18.85L184.72 -18.85M186.20 -23.29L187.19 -22.80L187.68 -21.81L187.68 -20.33L187.19 -19.34L186.20 -18.85M186.20 -18.85L187.19 -18.36L188.17 -17.37L188.67 -16.39L188.67 -14.91L188.17 -13.92L187.68 -13.43L186.20 -12.93L184.23 -12.93L182.75 -13.43L182.26 -13.92L181.76 -14.91L181.76 -15.40L182.26 -15.89L182.75 -15.40L182.26 -14.91M187.68 -17.86L188.17 -16.39L188.17 -14.91L187.68 -13.92L187.19 -13.43L186.20 -12.93M197.61 -20.72L197.61 5.80M198.44 -20.72L198.44 5.80M192.63 -20.72L198.44 -20.72M192.63 5.80L198.44 5.80" fill="none" stroke="#000" stroke-width="1.2" stroke-linecap="round" stroke-linejoin="round"/></g><g transform="translate(48.60 389.80) rotate(-90) translate(0.00 0)"><path d="M4.12 -17.28L4.12 0.00M4.94 -17.28L4.94 0.00M1.65 -17.28L4.94 -17.28M1.65 0.00L7.41 0.00M16.46 -11.52L13.99 -10.70L12.34 -9.05L11.52 -6.58L11.52 -4.94L12.34 -2.47L13.99 -0.82L16.46 0.00L18.11 0.00L20.57 -0.82L22.22 -2.47L23.04 -4.94L23.04 -6.58L22.22 -9.05L20.57 -10.70L18.11 -11.52L16.46 -11.52M16.46 -11.52L14.81 -10.70L13.17 -9.05L12.34 -6.58L12.34 -4.94L13.17 -2.47L14.81 -0.82L16.46 0.00M18.11 0.00L19.75 -0.82L21.40 -2.47L22.22 -4.94L22.22 -6.58L21.40 -9.05L19.75 -10.70L18.11 -11.52M32.10 -11.52L30.45 -10.70L29.63 -9.88L28.80 -8.23L28.80 -6.58L29.63 -4.94L30.45 -4.12L32.10 -3.29L33.74 -3.29L35.39 -4.12L36.21 -4.94L37.03 -6.58L37.03 -8.23L36.21 -9.88L35.39 -10.70L33.74 -11.52L32.10 -11.52M30.45 -10.70L29.63 -9.05L29.63 -5.76L30.45 -4.12M35.39 -4.12L36.21 -5.76L36.21 -9.05L35.39 -10.70M36.21 -9.88L37.03 -10.70L38.68 -11.52L38.68 -10.70L37.03 -10.70M29.63 -4.94L28.80 -4.12L27.98 -2.47L27.98 -1.65L28.80 0.00L31.27 0.82L35.39 0.82L37.86 1.65L38.68 2.47M27.98 -1.65L28.80 -0.82L31.27 0.00L35.39 0.00L37.86 0.82L38.68 2.47L38.68 3.29L37.86 4.94L35.39 5.76L30.45 5.76L27.98 4.94L27.16 3.29L27.16 2.47L27.98 0.82L30.45 0.00M65.84 -10.70L64.19 -11.52L61.72 -11.52L59.26 -10.70L57.61 -9.05L56.79 -6.58L56.79 -4.12L57.61 -1.65L58.43 -0.82L60.90 0.00L63.37 0.00L65.02 -0.82M61.72 -11.52L60.08 -10.70L58.43 -9.05L57.61 -6.58L57.61 -4.12L58.43 -1.65L59.26 -0.82L60.90 0.00M57.61 -5.76L64.19 -5.76M84.77 -20.57L84.77 5.76M85.59 -20.57L85.59 5.76M84.77 -20.57L90.53 -20.57M84.77 5.76L90.53 5.76M96.29 -6.58L106.17 -6.58L106.17 -8.23L105.34 -9.88L104.52 -10.70L102.88 -11.52L100.41 -11.52L97.94 -10.70L96.29 -9.05L95.47 -6.58L95.47 -4.94L96.29 -2.47L97.94 -0.82L100.41 0.00L102.05 0.00L104.52 -0.82L106.17 -2.47M105.34 -6.58L105.34 -9.05L104.52 -10.70M100.41 -11.52L98.76 -10.70L97.11 -9.05L96.29 -6.58L96.29 -4.94L97.11 -2.47L98.76 -0.82L100.41 0.00M112.75 -11.52L112.75 0.00M113.57 -11.52L113.57 0.00M113.57 -6.58L114.40 -9.05L116.04 -10.70L117.69 -11.52L120.16 -11.52L120.98 -10.70L120.98 -9.88L120.16 -9.05L119.33 -9.88L120.16 -10.70M110.28 -11.52L113.57 -11.52M110.28 0.00L116.04 0.00M129.21 -11.52L127.56 -10.70L126.74 -9.88L125.92 -8.23L125.92 -6.58L126.74 -4.94L127.56 -4.12L129.21 -3.29L130.86 -3.29L132.50 -4.12L133.33 -4.94L134.15 -6.58L134.15 -8.23L133.33 -9.88L132.50 -10.70L130.86 -11.52L129.21 -11.52M127.56 -10.70L126.74 -9.05L126.74 -5.76L127.56 -4.12M132.50 -4.12L133.33 -5.76L133.33 -9.05L132.50 -10.70M133.33 -9.88L134.15 -10.70L135.79 -11.52L135.79 -10.70L134.15 -10.70M126.74 -4.94L125.92 -4.12L125.10 -2.47L125.10 -1.65L125.92 0.00L128.39 0.82L132.50 0.82L134.97 1.65L135.79 2.47M125.10 -1.65L125.92 -0.82L128.39 0.00L132.50 0.00L134.97 0.82L135.79 2.47L135.79 3.29L134.97 4.94L132.50 5.76L127.56 5.76L125.10 4.94L124.27 3.29L124.27 2.47L125.10 0.82L127.56 0.00M158.02 -11.52L156.37 -10.70L155.55 -9.88L154.72 -8.23L154.72 -6.58L155.55 -4.94L156.37 -4.12L158.02 -3.29L159.66 -3.29L161.31 -4.12L162.13 -4.94L162.95 -6.58L162.95 -8.23L162.13 -9.88L161.31 -10.70L159.66 -11.52L158.02 -11.52M156.37 -10.70L155.55 -9.05L155.55 -5.76L156.37 -4.12M161.31 -4.12L162.13 -5.76L162.13 -9.05L161.31 -10.70M162.13 -9.88L162.95 -10.70L164.60 -11.52L164.60 -10.70L162.95 -10.70M155.55 -4.94L154.72 -4.12L153.90 -2.47L153.90 -1.65L154.72 0.00L157.19 0.82L161.31 0.82L163.78 1.65L164.60 2.47M153.90 -1.65L154.72 -0.82L157.19 0.00L161.31 0.00L163.78 0.82L164.60 2.47L164.60 3.29L163.78 4.94L161.31 5.76L156.37 5.76L153.90 4.94L153.08 3.29L153.08 2.47L153.90 0.82L156.37 0.00M169.03 -17.25L177.84 -17.25M182.74 -21.16L183.72 -21.65L185.19 -23.12L185.19 -12.84M184.70 -22.63L184.70 -12.84M182.74 -12.84L187.15 -12.84M213.46 -9.88L214.28 -11.52L214.28 -8.23L213.46 -9.88L212.64 -10.70L210.99 -11.52L207.70 -11.52L206.05 -10.70L205.23 -9.88L205.23 -8.23L206.05 -7.41L207.70 -6.58L211.82 -4.94L213.46 -4.12L214.28 -3.29M205.23 -9.05L206.05 -8.23L207.70 -7.41L211.82 -5.76L213.46 -4.94L214.28 -4.12L214.28 -1.65L213.46 -0.82L211.82 0.00L208.52 0.00L206.88 -0.82L206.05 -1.65L205.23 -3.29L205.23 0.00L206.05 -1.65M218.71 -17.25L227.53 -17.25M232.42 -21.16L233.40 -21.65L234.87 -23.12L234.87 -12.84M234.38 -22.63L234.38 -12.84M232.42 -12.84L236.83 -12.84M246.69 -20.57L246.69 5.76M247.51 -20.57L247.51 5.76M241.75 -20.57L247.51 -20.57M241.75 5.76L247.51 5.76" fill="none" stroke="#000" stroke-width="1.2" stroke-linecap="round" stroke-linejoin="round"/></g><g transform="translate(663.00 77.49) translate(0.00 0)"><path d="M8.54 -7.93L7.32 -8.54L5.49 -8.54L3.66 -7.93L2.44 -6.71L1.83 -4.88L1.83 -3.05L2.44 -1.22L3.05 -0.61L4.88 0.00L6.71 0.00L7.93 -0.61M5.49 -8.54L4.27 -7.93L3.05 -6.71L2.44 -4.88L2.44 -3.05L3.05 -1.22L3.66 -0.61L4.88 0.00M2.44 -4.27L7.32 -4.27M14.21 -0.61L13.36 5.37M14.64 -0.61L14.21 1.95L13.79 4.09L13.36 5.37M18.91 -0.61L18.48 1.10L17.63 2.81M19.34 -0.61L18.91 0.67L18.48 1.53L17.63 2.81L16.77 3.66L15.49 4.51L14.64 4.94L13.36 5.37M12.93 -0.61L14.64 -0.61" fill="none" stroke="#000" stroke-width="1.2" stroke-linecap="round" stroke-linejoin="round"/></g><g transform="translate(663.00 98.03) translate(0.00 0)"><path d="M8.54 -7.93L7.32 -8.54L5.49 -8.54L3.66 -7.93L2.44 -6.71L1.83 -4.88L1.83 -3.05L2.44 -1.22L3.05 -0.61L4.88 0.00L6.71 0.00L7.93 -0.61M5.49 -8.54L4.27 -7.93L3.05 -6.71L2.44 -4.88L2.44 -3.05L3.05 -1.22L3.66 -0.61L4.88 0.00M2.44 -4.27L7.32 -4.27M18.06 0.67L17.63 1.10L18.06 1.53L18.48 1.10L18.48 0.67L17.63 -0.18L16.77 -0.61L15.49 -0.61L14.21 -0.18L13.36 0.67L12.93 1.95L12.93 2.81L13.36 4.09L14.21 4.94L15.49 5.37L16.35 5.37L17.63 4.94L18.48 4.09M15.49 -0.61L14.64 -0.18L13.79 0.67L13.36 1.95L13.36 2.81L13.79 4.09L14.64 4.94L15.49 5.37M23.61 -0.61L22.33 -0.18L21.47 0.67L21.04 1.95L21.04 2.81L21.47 4.09L22.33 4.94L23.61 5.37L24.46 5.37L25.74 4.94L26.60 4.09L27.02 2.81L27.02 1.95L26.60 0.67L25.74 -0.18L24.46 -0.61L23.61 -0.61M23.61 -0.61L22.75 -0.18L21.90 0.67L21.47 1.95L21.47 2.81L21.90 4.09L22.75 4.94L23.61 5.37M24.46 5.37L25.31 4.94L26.17 4.09L26.60 2.81L26.60 1.95L26.17 0.67L25.31 -0.18L24.46 -0.61M30.44 -0.61L30.44 5.37M30.87 -0.61L30.87 5.37M30.87 0.67L31.72 -0.18L33.00 -0.61L33.85 -0.61L35.14 -0.18L35.56 0.67L35.56 5.37M33.85 -0.61L34.71 -0.18L35.14 0.67L35.14 5.37M35.56 0.67L36.42 -0.18L37.70 -0.61L38.55 -0.61L39.83 -0.18L40.26 0.67L40.26 5.37M38.55 -0.61L39.41 -0.18L39.83 0.67L39.83 5.37M29.16 -0.61L30.87 -0.61M29.16 5.37L32.15 5.37M33.85 5.37L36.84 5.37M38.55 5.37L41.54 5.37M44.53 -0.61L44.53 8.36M44.96 -0.61L44.96 8.36M44.96 0.67L45.81 -0.18L46.66 -0.61L47.52 -0.61L48.80 -0.18L49.65 0.67L50.08 1.95L50.08 2.81L49.65 4.09L48.80 4.94L47.52 5.37L46.66 5.37L45.81 4.94L44.96 4.09M47.52 -0.61L48.37 -0.18L49.23 0.67L49.65 1.95L49.65 2.81L49.23 4.09L48.37 4.94L47.52 5.37M43.25 -0.61L44.96 -0.61M43.25 8.36L46.24 8.36" fill="none" stroke="#000" stroke-width="1.2" stroke-linecap="round" stroke-linejoin="round"/></g><g transform="translate(663.00 118.56) translate(0.00 0)"><path d="M8.54 -7.93L7.32 -8.54L5.49 -8.54L3.66 -7.93L2.44 -6.71L1.83 -4.88L1.83 -3.05L2.44 -1.22L3.05 -0.61L4.88 0.00L6.71 0.00L7.93 -0.61M5.49 -8.54L4.27 -7.93L3.05 -6.71L2.44 -4.88L2.44 -3.05L3.05 -1.22L3.66 -0.61L4.88 0.00M2.44 -4.27L7.32 -4.27M13.79 -0.61L13.79 5.37M14.21 -0.61L14.21 5.37M14.21 0.67L15.07 -0.18L16.35 -0.61L17.20 -0.61L18.48 -0.18L18.91 0.67L18.91 5.37M17.20 -0.61L18.06 -0.18L18.48 0.67L18.48 5.37M12.50 -0.61L14.21 -0.61M12.50 5.37L15.49 5.37M17.20 5.37L20.19 5.37M23.18 -0.61L23.18 4.09L23.61 4.94L24.89 5.37L25.74 5.37L27.02 4.94L27.88 4.09M23.61 -0.61L23.61 4.09L24.03 4.94L24.89 5.37M27.88 -0.61L27.88 5.37M28.30 -0.61L28.30 5.37M21.90 -0.61L23.61 -0.61M26.60 -0.61L28.30 -0.61M27.88 5.37L29.59 5.37M36.84 0.67L36.42 1.10L36.84 1.53L37.27 1.10L37.27 0.67L36.42 -0.18L35.56 -0.61L34.28 -0.61L33.00 -0.18L32.15 0.67L31.72 1.95L31.72 2.81L32.15 4.09L33.00 4.94L34.28 5.37L35.14 5.37L36.42 4.94L37.27 4.09M34.28 -0.61L33.43 -0.18L32.57 0.67L32.15 1.95L32.15 2.81L32.57 4.09L33.43 4.94L34.28 5.37" fill="none" stroke="#000" stroke-width="1.2" stroke-linecap="round" stroke-linejoin="round"/></g><g transform="translate(663.00 139.10) translate(0.00 0)"><path d="M8.54 -7.93L7.32 -8.54L5.49 -8.54L3.66 -7.93L2.44 -6.71L1.83 -4.88L1.83 -3.05L2.44 -1.22L3.05 -0.61L4.88 0.00L6.71 0.00L7.93 -0.61M5.49 -8.54L4.27 -7.93L3.05 -6.71L2.44 -4.88L2.44 -3.05L3.05 -1.22L3.66 -0.61L4.88 0.00M2.44 -4.27L7.32 -4.27M13.79 -3.60L13.79 3.66L14.21 4.94L15.07 5.37L15.92 5.37L16.77 4.94L17.20 4.09M14.21 -3.60L14.21 3.66L14.64 4.94L15.07 5.37M12.50 -0.61L15.92 -0.61M20.19 -3.60L20.19 5.37M20.62 -3.60L20.62 5.37M20.62 0.67L21.47 -0.18L22.75 -0.61L23.61 -0.61L24.89 -0.18L25.32 0.67L25.32 5.37M23.61 -0.61L24.46 -0.18L24.89 0.67L24.89 5.37M18.91 -3.60L20.62 -3.60M18.91 5.37L21.90 5.37M23.61 5.37L26.60 5.37" fill="none" stroke="#000" stroke-width="1.2" stroke-linecap="round" stroke-linejoin="round"/></g></svg></body></html>
